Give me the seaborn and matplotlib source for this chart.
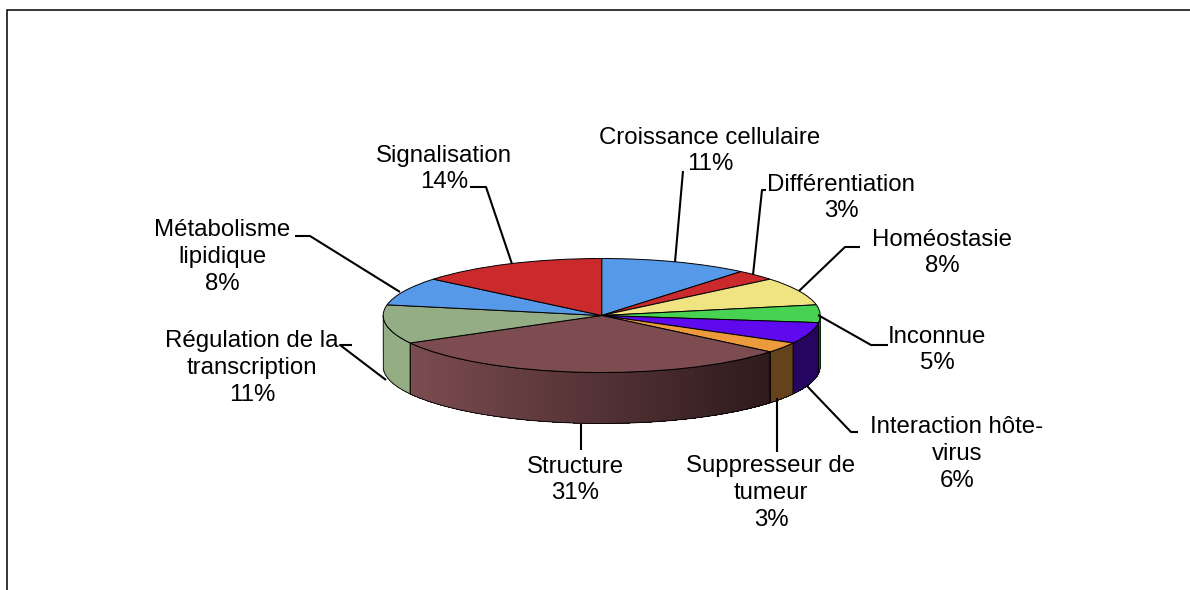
import numpy as np
import matplotlib
matplotlib.use("Agg")
import matplotlib.pyplot as plt
from matplotlib.collections import PolyCollection
from matplotlib.colors import to_rgb
import seaborn as sns

# ---- data ----
categories = ["Croissance cellulaire", "Différentiation", "Homéostasie", "Inconnue",
              "Interaction hôte-\nvirus", "Suppresseur de\ntumeur", "Structure",
              "Régulation de la\ntranscription", "Métabolisme\nlipidique", "Signalisation"]
values = [11, 3, 8, 5, 6, 3, 31, 11, 8, 14]
top_colors = ["#5699E8", "#CB2A2C", "#EFE481", "#47D252", "#5F09EE",
              "#EC9A3C", "#7C4C50", "#94AD84", "#5699E8", "#CB2A2C"]
side_left = ["#3A6AA0", "#8A1C1E", "#A59D58", "#1F6B2A", "#25055F",
             "#63421C", "#7C4C50", "#94AD84", "#94AD84", "#CB2A2C"]
side_right = ["#3A6AA0", "#8A1C1E", "#A59D58", "#1F6B2A", "#25055F",
              "#63421C", "#2E1A1C", "#94AD84", "#94AD84", "#CB2A2C"]

# ---- layout (pixels) ----
W, H = 1190, 590
cx, cy, rx, ry, depth = 601.7, 315.5, 218.5, 57.0, 51.0
label_xy = [(710, 151), (841, 198), (942, 253), (937, 350), (957, 454),
            (771, 493), (575, 480), (252, 368), (222, 257), (444, 169)]
leaders = [[(683, 171), (675, 262)],
           [(766, 190), (762, 190), (753, 275)],
           [(860, 247), (845, 247), (799, 291)],
           [(888, 345), (871, 345), (818, 315)],
           [(858, 432), (851, 432), (807, 386)],
           [(777, 452), (777, 398)],
           [(581, 450), (581, 424)],
           [(352, 345), (340, 345), (386, 380)],
           [(295, 236), (310, 236), (400, 292)],
           [(470, 187), (486, 187), (512, 264)]]

sns.set_theme(style="white")
plt.rcParams["font.family"] = ["Liberation Sans", "DejaVu Sans"]
palette = sns.color_palette(top_colors)

fig = plt.figure(figsize=(W / 100, H / 100), dpi=100, facecolor="white")
pie_ax = fig.add_axes([0, 0, 1, 1])
px = fig.add_axes([0, 0, 1, 1])
px.patch.set_alpha(0)

# pie lid, squashed to an ellipse by the axes scale
pie_ax.pie(values, colors=palette, startangle=90, counterclock=False, radius=1,
           wedgeprops=dict(edgecolor="black", linewidth=0.7, zorder=5))
pie_ax.set_aspect("auto")
pie_ax.set_xlim((0 - cx) / rx, (W - cx) / rx)
pie_ax.set_ylim((cy - H) / ry, cy / ry)
pie_ax.axis("off")

# side wall of the front half, from the same values
d = depth / ry
edges = np.cumsum([0] + values) / sum(values) * 360.0
for i in range(len(values)):
    t0, t1 = max(edges[i], 90.0), min(edges[i + 1], 270.0)
    if t1 <= t0:
        continue
    ts = np.radians(np.linspace(t0, t1, max(int((t1 - t0) * 3), 2)))
    xs, ys = np.sin(ts), np.cos(ts)
    c_r, c_l = np.array(to_rgb(side_right[i])), np.array(to_rgb(side_left[i]))
    polys, cols = [], []
    xa, xb = xs.min(), xs.max()
    for j in range(len(ts) - 1):
        polys.append([(xs[j], ys[j]), (xs[j + 1], ys[j + 1]),
                      (xs[j + 1], ys[j + 1] - d), (xs[j], ys[j] - d)])
        f = (0.5 * (xs[j] + xs[j + 1]) - xa) / max(xb - xa, 1e-6)
        cols.append(c_l + (c_r - c_l) * f)
    pie_ax.add_collection(PolyCollection(polys, facecolors=cols, edgecolors="none",
                                         linewidths=0, antialiaseds=False, zorder=2))
    outline = np.r_[np.c_[xs, ys], np.c_[xs[::-1], ys[::-1] - d], [[xs[0], ys[0]]]]
    pie_ax.plot(outline[:, 0], outline[:, 1], color="black", lw=0.6, zorder=3)

# frame, leaders and labels in pixel coordinates
px.set_xlim(0, W)
px.set_ylim(H, 0)
px.axis("off")
px.plot([6.5, 6.5, W], [H, 9.5, 9.5], color="black", lw=1.1, solid_joinstyle="miter")
for pts in leaders:
    a = np.array(pts)
    px.plot(a[:, 0], a[:, 1], color="black", lw=1.5, solid_capstyle="butt")
for cat, val, (x, y) in zip(categories, values, label_xy):
    px.text(x, y, f"{cat}\n{val}%", ha="center", va="center", fontsize=17.3,
            color="black", linespacing=1.29, multialignment="center")

fig.savefig("out.png", dpi=100, facecolor="white")
